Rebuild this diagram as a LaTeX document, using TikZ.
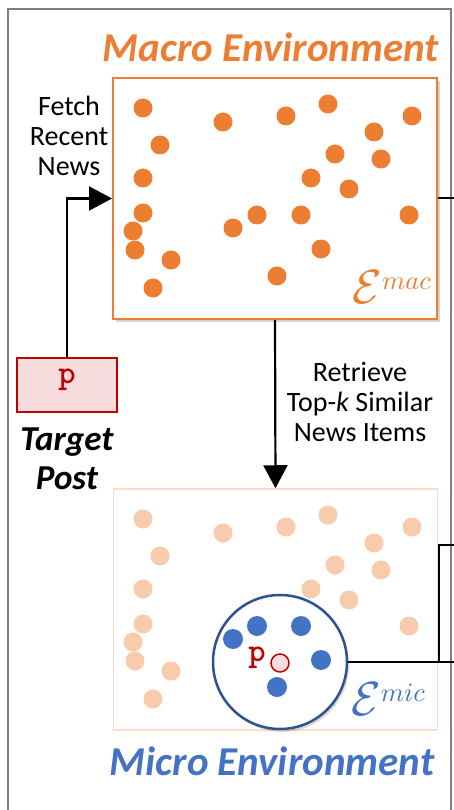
\documentclass[tikz,border=0pt]{standalone}
\usepackage{fontspec}
\setmainfont{Carlito}
\usepackage{amsmath}
\usepackage{xcolor}
\usetikzlibrary{arrows.meta,shadows}

\definecolor{macorange}{HTML}{ED7D31}
\definecolor{micpeach}{HTML}{F8CBAD}
\definecolor{micline}{HTML}{FADDCB}
\definecolor{micblue}{HTML}{4472C4}
\definecolor{ringblue}{HTML}{2F528F}
\definecolor{postred}{HTML}{C00000}
\definecolor{postpink}{HTML}{F6DCDC}

\newcommand{\envsym}[1]{\scalebox{4.8}{$\mathcal{E}$}\raisebox{14pt}{\scalebox{2.65}{$#1$}}}

\begin{document}
\begin{tikzpicture}[x=1pt, y=-1pt,
                    env/.style = {draw, minimum width=324pt, minimum height=241pt, inner sep=0pt},
                    lbl/.style = {align=center, font=\fontsize{28}{30}\selectfont},
                    title/.style = {font=\fontsize{41}{44}\selectfont\bfseries\itshape},
                    sym/.style = {anchor=base east, inner sep=0pt, font=\fontsize{10}{12}\selectfont},
                    arr/.style = {-{Triangle[length=23pt,width=24pt]}, line width=2.2pt},
                    wire/.style = {line width=2pt}]
                    \useasboundingbox (0,0) rectangle (454,810);
                    \draw[gray, line width=1.5pt] (8,810) |- (451,9) -- (451,810);

                    % macro environment
                    \node[title, text=macorange, anchor=base] (mactitle) at (271,62) {Macro Environment};
                    \node[env, draw=macorange, line width=2pt, fill=white,
                          drop shadow={shadow xshift=3pt, shadow yshift=-3pt, opacity=0.35}] (macbox) at (275,198.5) {};
                    \foreach \x/\y in {143/108, 223/122, 286/116, 328/104, 412/116, 160/145, 374/132, 335/154,
                                       381/159, 143/178, 311/178, 349/189, 143/213, 257/215, 301/215, 409/215,
                                       133/231, 233/228, 135/250, 321/249, 171/260, 277/276, 153/288}
                        \fill[macorange] (\x,\y) circle (9.5);
                    \node[sym, text=macorange] (maclbl) at (431,303) {\envsym{mac}};

                    % target post
                    \node[draw=postred, fill=postpink, line width=2pt, minimum width=100pt, minimum height=54pt]
                        (post) at (67,385) {};
                    \node[text=postred, font=\fontsize{33}{33}\selectfont\ttfamily\bfseries] (p) at (67,380) {p};
                    \node[align=center, font=\fontsize{35}{39}\selectfont\bfseries\itshape] (postlbl) at (67,459) {Target\\Post};
                    \node[lbl] (fetch) at (69,136) {Fetch\\Recent\\News};
                    \draw[arr] (post.north) |- (macbox.west);

                    % micro environment
                    \node[env, draw=micline, line width=1.5pt, fill=white] (micbox) at (275.5,609.5) {};
                    \foreach \x/\y in {143/108, 223/122, 286/116, 328/104, 412/116, 160/145, 374/132, 335/154,
                                       381/159, 143/178, 311/178, 349/189, 143/213, 257/215, 301/215, 409/215,
                                       133/231, 233/228, 135/250, 321/249, 171/260, 277/276, 153/288}
                        \fill[micpeach] (\x,\y+411) circle (9.5);
                    \node[circle, draw=ringblue, line width=2.5pt, fill=white, minimum size=134pt, inner sep=0pt,
                          drop shadow={shadow xshift=2pt, shadow yshift=-3pt, opacity=0.3}] (ring) at (280,662) {};
                    \foreach \x/\y in {233/639, 257/626, 301/626, 321/660, 277/687}
                        \fill[micblue] (\x,\y) circle (10);
                    \node[circle, draw=postred, fill=postpink, line width=1.5pt, minimum size=18pt, inner sep=0pt] (q) at (280,663) {};
                    \node[text=postred, font=\fontsize{33}{33}\selectfont\ttfamily\bfseries] (p2) at (257,658) {p};
                    \node[sym, text=micblue] (miclbl) at (425,715) {\envsym{mic}};
                    \node[title, text=micblue, anchor=base] (mictitle) at (272,775) {Micro Environment};

                    \node[lbl] (retrieve) at (360,402) {Retrieve\\Top-\textit{k} Similar\\News Items};
                    \draw[arr] (macbox.south) -- (micbox.north);

                    % links to the right
                    \coordinate (r1) at (454,198.5);
                    \coordinate (r2) at (454,662);
                    \coordinate (r3) at (454,545);
                    \coordinate (j) at (439,662);
                    \draw[wire] (macbox.east) -- (r1);
                    \draw[wire] (ring.east) -- (r2);
                    \draw[wire] (j) |- (r3);
                \end{tikzpicture}
\end{document}
